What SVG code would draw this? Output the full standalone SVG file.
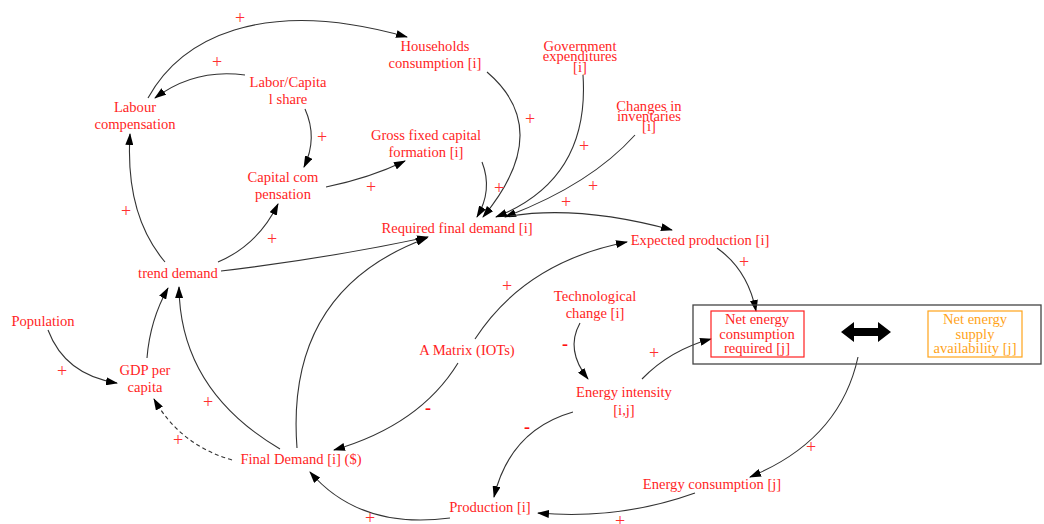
<svg xmlns="http://www.w3.org/2000/svg" width="1044" height="524" viewBox="0 0 1044 524">
<defs>
<marker id="ah" viewBox="0 0 12 8" refX="11" refY="4" markerWidth="12" markerHeight="8" markerUnits="userSpaceOnUse" orient="auto">
<path d="M0,0 L12,4 L0,8 Z" fill="#000"/>
</marker>
<style>
text{font-family:"Liberation Serif","Times New Roman",serif;font-size:14.6px;fill:#ff1f1f;text-anchor:middle}
.or{fill:#ffa31a}
.sg{font-size:18px;fill:#ff3030}
.mn{font-size:18px;font-weight:bold;fill:#ff1010}
.c{fill:none;stroke:#333;stroke-width:1.1;marker-end:url(#ah)}
.d{stroke-dasharray:4,3}
</style>
</defs>
<rect width="1044" height="524" fill="#fff"/>
<g id="connectors">
<path class="c" d="M148,98 C180,40 260,-5 407,37"/>
<path class="c" d="M245,75 Q195,68 155,98"/>
<path class="c" d="M305,109 Q318,138 304,167"/>
<path class="c" d="M326,187 Q370,178 405,161"/>
<path class="c" d="M165,262 Q125,215 130,134"/>
<path class="c" d="M218,262 Q258,245 278,204"/>
<path class="c" d="M221,271 Q330,258 428,237"/>
<path class="c" d="M297,448 Q285,290 427,238"/>
<path class="c" d="M458,363 Q420,425 334,450"/>
<path class="c" d="M475,339 Q525,262 627,242"/>
<path class="c" d="M487,72 Q555,130 483,217"/>
<path class="c" d="M482,162 Q493,190 477,217"/>
<path class="c" d="M583,75 Q590,180 496,217"/>
<path class="c" d="M635,135 Q590,185 505,217"/>
<path class="c" d="M510,216 Q580,205 672,230"/>
<path class="c" d="M717,248 Q748,270 756,311"/>
<path class="c" d="M580,323 Q565,350 588,379"/>
<path class="c" d="M642,379 Q670,350 711,339"/>
<path class="c" d="M573,412 Q510,430 494,497"/>
<path class="c" d="M858,357 Q840,440 750,477"/>
<path class="c" d="M695,493 Q620,520 538,513"/>
<path class="c" d="M450,518 Q360,530 310,472"/>
<path class="c" d="M280,449 Q180,390 179,287"/>
<path class="c d" d="M232,460 Q180,445 154,399"/>
<path class="c" d="M147,358 Q150,320 168,288"/>
<path class="c" d="M48,330 Q65,375 117,383"/>
</g>
<g id="signs">
<text class="sg" x="240" y="24">+</text>
<text class="sg" x="217" y="68">+</text>
<text class="sg" x="322" y="143">+</text>
<text class="sg" x="371" y="193">+</text>
<text class="sg" x="126" y="217">+</text>
<text class="sg" x="272" y="245">+</text>
<text class="sg" x="530" y="125">+</text>
<text class="sg" x="499" y="194">+</text>
<text class="sg" x="584" y="152">+</text>
<text class="sg" x="593" y="192">+</text>
<text class="sg" x="566" y="208">+</text>
<text class="sg" x="507" y="292">+</text>
<text class="mn" x="428" y="414">-</text>
<text class="sg" x="744" y="268">+</text>
<text class="mn" x="565" y="350">-</text>
<text class="sg" x="654" y="359">+</text>
<text class="mn" x="527" y="433">-</text>
<text class="sg" x="811" y="453">+</text>
<text class="sg" x="620" y="527">+</text>
<text class="sg" x="370" y="524">+</text>
<text class="sg" x="208" y="408">+</text>
<text class="sg" x="178" y="446">+</text>
<text class="sg" x="62" y="377">+</text>
</g>
<g id="households"><text x="435" y="51">Households</text><text x="435" y="68">consumption [i]</text></g>
<g id="government"><text x="580" y="51">Government</text><text x="580" y="61">expenditures</text><text x="580" y="72">[i]</text></g>
<g id="changes"><text x="649" y="111">Changes in</text><text x="649" y="121">inventaries</text><text x="649" y="131">[i]</text></g>
<g id="gross"><text x="426" y="140">Gross fixed capital</text><text x="426" y="157">formation [i]</text></g>
<g id="required"><text x="457" y="233">Required final demand [i]</text></g>
<g id="expected"><text x="700" y="245">Expected production [i]</text></g>
<g id="labour"><text x="135" y="112">Labour</text><text x="135" y="129">compensation</text></g>
<g id="laborcapital"><text x="288" y="87">Labor/Capita</text><text x="288" y="104">l share</text></g>
<g id="capital"><text x="283" y="182">Capital com</text><text x="283" y="199">pensation</text></g>
<g id="trend"><text x="178" y="278">trend demand</text></g>
<g id="population"><text x="43" y="326">Population</text></g>
<g id="gdp"><text x="145" y="375">GDP per</text><text x="145" y="392">capita</text></g>
<g id="finaldemand"><text x="301" y="464">Final Demand [i] ($)</text></g>
<g id="amatrix"><text x="467" y="355">A Matrix (IOTs)</text></g>
<g id="tech"><text x="595" y="301">Technological</text><text x="595" y="318">change [i]</text></g>
<g id="intensity"><text x="624" y="397">Energy intensity</text><text x="624" y="415">[i,j]</text></g>
<g id="production"><text x="490" y="512">Production [i]</text></g>
<g id="energycons"><text x="712" y="489">Energy consumption [j]</text></g>
<g id="energybox">
<rect x="693" y="305" width="348" height="59" fill="none" stroke="#444" stroke-width="1.3"/>
<g id="netreq"><rect x="711" y="311" width="93" height="46" fill="none" stroke="#ff1f1f" stroke-width="1.2"/>
<text x="757" y="324">Net energy</text><text x="757" y="339">consumption</text><text x="757" y="353">required [j]</text></g>
<polygon points="841,332 854,322 854,328 878,328 878,322 891,332 878,342 878,336 854,336 854,342" fill="#000"/>
<g id="netsupply"><rect x="928" y="311" width="94" height="46" fill="none" stroke="#ffa31a" stroke-width="1.2"/>
<text class="or" x="975" y="324">Net energy</text><text class="or" x="975" y="339">supply</text><text class="or" x="975" y="353">availability [j]</text></g>
</g>
</svg>
